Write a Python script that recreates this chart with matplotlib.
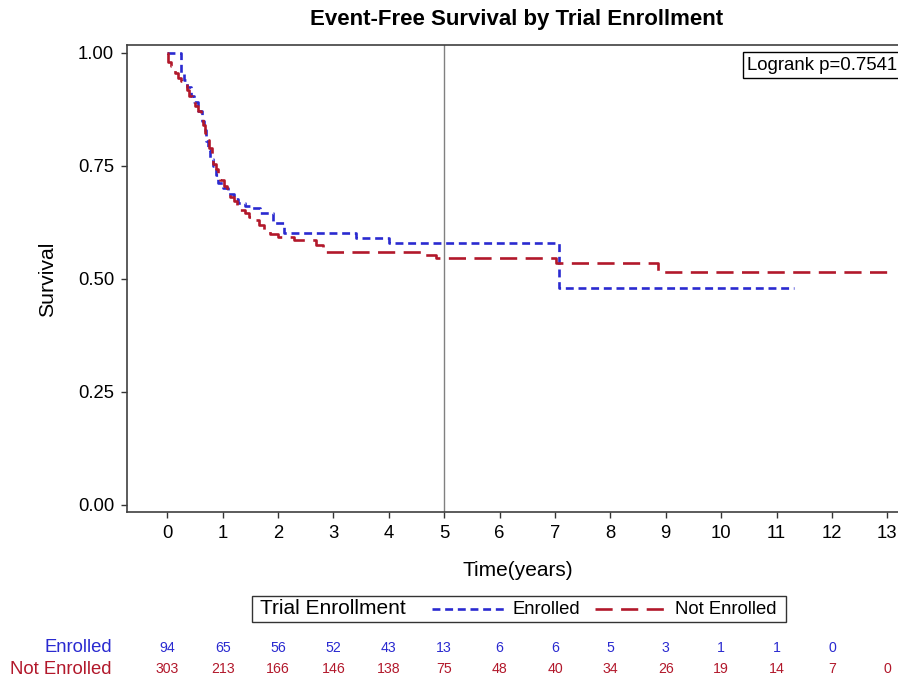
import matplotlib
matplotlib.use("Agg")
import matplotlib.pyplot as plt
from matplotlib.lines import Line2D
from matplotlib.patches import Rectangle
import matplotlib.transforms as mtransforms

plt.rcParams["font.family"] = ["Liberation Sans", "DejaVu Sans"]

# --- Kaplan-Meier step points ---
enrolled_t = [0, 0.24, 0.30, 0.36, 0.42, 0.48, 0.55, 0.62, 0.66, 0.70, 0.74, 0.78,
              0.83, 0.88, 0.92, 1.00, 1.10, 1.20, 1.27, 1.40, 1.50, 1.68, 1.90,
              2.10, 3.40, 4.01, 7.07, 11.32]
enrolled_s = [1.0, 0.956, 0.94, 0.925, 0.905, 0.89, 0.87, 0.85, 0.83, 0.805, 0.784, 0.765,
              0.75, 0.73, 0.711, 0.70, 0.688, 0.677, 0.667, 0.661, 0.656, 0.645, 0.623,
              0.601, 0.591, 0.579, 0.480, 0.480]

not_enrolled_t = [0, 0.02, 0.06, 0.10, 0.14, 0.20, 0.25, 0.29, 0.35, 0.40, 0.45, 0.50,
                  0.55, 0.60, 0.64, 0.68, 0.72, 0.76, 0.80, 0.83, 0.88, 0.92, 0.96,
                  1.02, 1.08, 1.14, 1.20, 1.26, 1.32, 1.40, 1.48, 1.56, 1.65, 1.74,
                  1.85, 1.99, 2.28, 2.68, 2.82, 4.60, 4.85, 7.02, 8.86, 13.0]
not_enrolled_s = [1.0, 0.98, 0.97, 0.962, 0.954, 0.945, 0.938, 0.93, 0.918, 0.905, 0.894, 0.882,
                  0.870, 0.857, 0.84, 0.823, 0.806, 0.789, 0.77, 0.755, 0.742, 0.73, 0.718,
                  0.705, 0.693, 0.681, 0.671, 0.661, 0.652, 0.645, 0.637, 0.63, 0.619, 0.608,
                  0.60, 0.593, 0.586, 0.575, 0.560, 0.552, 0.547, 0.536, 0.515, 0.515]

# --- numbers at risk ---
risk_times = list(range(14))
enrolled_risk = [94, 65, 56, 52, 43, 13, 6, 6, 5, 3, 1, 1, 0]
not_enrolled_risk = [303, 213, 166, 146, 138, 75, 48, 40, 34, 26, 19, 14, 7, 0]

x_ticks = list(range(14))
y_ticks = [0.0, 0.25, 0.5, 0.75, 1.0]

BLUE = "#2a2ad0"
RED = "#b2182b"
W, H = 898, 677


def px(x, y):
    # pixel position (top-left origin) -> figure fraction
    return x / W, 1 - y / H


fig = plt.figure(figsize=(W / 100, H / 100), dpi=100)
ax = fig.add_axes([126.7 / W, 1 - 512 / H, (905 - 126.7) / W, (512 - 45) / H])

ax.plot(enrolled_t, enrolled_s, drawstyle="steps-post", color=BLUE, lw=1.9,
        dashes=(3.0, 1.8), label="Enrolled")
ax.plot(not_enrolled_t, not_enrolled_s, drawstyle="steps-post", color=RED, lw=1.9,
        dashes=(6.5, 3.2), label="Not Enrolled")
ax.axvline(5, color="#808080", lw=1.0)

ax.set_xlim(-0.733, 13.32)
ax.set_ylim(-0.0155, 1.017)
ax.set_xticks(x_ticks)
ax.set_yticks(y_ticks)
ax.set_yticklabels([f"{v:.2f}" for v in y_ticks])
ax.tick_params(direction="out", length=4, width=1.0, labelsize=13.3, color="#333333", pad=5)
for side in ["left", "bottom", "top"]:
    ax.spines[side].set_color("#404040")
    ax.spines[side].set_linewidth(1.2)
ax.spines["right"].set_visible(False)

fig.text(*px(48, 279), "Survival", fontsize=15.3, rotation=90, ha="center", va="center")
fig.text(*px(518, 570), "Time(years)", fontsize=15, ha="center", va="center")
fig.text(*px(517, 20), "Event-Free Survival by Trial Enrollment", fontsize=16,
         fontweight="bold", ha="center", va="center")

# logrank box
fig.text(*px(747, 65), "Logrank p=0.7541", fontsize=13.4, ha="left", va="center",
         bbox=dict(boxstyle="square,pad=0.22", fc="white", ec="black", lw=1.0))

# legend drawn by hand
x0, y0 = px(252, 622)
x1, y1 = px(786, 596)
fig.patches.append(Rectangle((x0, y0), x1 - x0, y1 - y0, transform=fig.transFigure,
                             fill=False, ec="#333333", lw=1.0))
ly = px(0, 609)[1]
fig.text(px(260, 0)[0], ly, "Trial Enrollment", fontsize=15, va="center")
fig.lines.append(Line2D([432 / W, 504 / W], [ly, ly], transform=fig.transFigure,
                        color=BLUE, lw=1.9, dashes=(3.0, 1.8)))
fig.text(px(513, 0)[0], ly, "Enrolled", fontsize=13.3, va="center")
fig.lines.append(Line2D([595 / W, 664 / W], [ly, ly], transform=fig.transFigure,
                        color=RED, lw=1.9, dashes=(6.5, 3.2)))
fig.text(px(675, 0)[0], ly, "Not Enrolled", fontsize=13.3, va="center")

# numbers at risk
trans = mtransforms.blended_transform_factory(ax.transData, fig.transFigure)
row_y = {"Enrolled": px(0, 648)[1], "Not Enrolled": px(0, 669)[1]}
fig.text(112 / W, row_y["Enrolled"], "Enrolled", fontsize=13.3, color=BLUE,
         ha="right", va="center")
fig.text(112 / W, row_y["Not Enrolled"], "Not Enrolled", fontsize=13.3, color=RED,
         ha="right", va="center")
for t, n in zip(risk_times, enrolled_risk):
    ax.text(t, row_y["Enrolled"], str(n), transform=trans, fontsize=10.2, color=BLUE,
            ha="center", va="center", clip_on=False)
for t, n in zip(risk_times, not_enrolled_risk):
    ax.text(t, row_y["Not Enrolled"], str(n), transform=trans, fontsize=10.2, color=RED,
            ha="center", va="center", clip_on=False)

fig.savefig("out.png", dpi=100)
